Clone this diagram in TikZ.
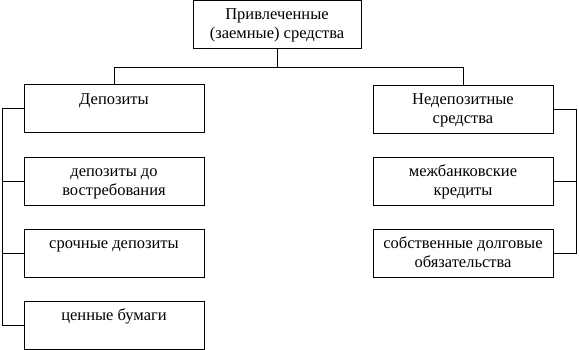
\documentclass[tikz,border=0pt]{standalone}
\usepackage{fontspec}
\setmainfont{Liberation Serif}
\usetikzlibrary{positioning}

% texto pegado arriba dentro del bloque
\newcommand{\blocktext}[2][172pt]{\parbox[c][35pt][t]{#1}{\centering\strut #2}}

\tikzset{
  blok/.style={draw, line width=0.8pt, minimum width=180pt, minimum height=48pt,
    inner sep=0pt, font=\fontsize{16.5}{19}\selectfont},
  svyaz/.style={line width=0.8pt}
}

\begin{document}
\begin{tikzpicture}[x=1pt, y=-1pt]
  \useasboundingbox (0,0) rectangle (579,350);

  % Bloque superior
  \node[blok, minimum width=168pt] (glav) at (277,24) {\blocktext[160pt]{Привлеченные\\(заемные) средства}};

  % Dos ramas
  \node[blok] (dep) at (114,108.5) {\blocktext{Депозиты}};
  \node[blok] (ned) at (463,109) {\blocktext{Недепозитные\\средства}};

  % Rama izquierda
  \node[blok] (dep1) at (114,181) {\blocktext{депозиты до\\востребования}};
  \node[blok] (dep2) at (114,253) {\blocktext{срочные депозиты}};
  \node[blok] (dep3) at (114,325) {\blocktext{ценные бумаги}};

  % Rama derecha
  \node[blok] (ned1) at (463,181) {\blocktext{межбанковские\\кредиты}};
  \node[blok] (ned2) at (463,253) {\blocktext{собственные долговые\\обязательства}};

  % Conexiones
  \coordinate (razv) at (277,67);
  \coordinate (shinaL) at (2.5,0);
  \coordinate (shinaR) at (576.5,0);
  \draw[svyaz] (glav.south) -- (razv);
  \draw[svyaz] (razv) -| (dep.north);
  \draw[svyaz] (razv) -| (ned.north);

  \draw[svyaz] (dep.west) -- (dep.west -| shinaL) |- (dep3.west);
  \draw[svyaz] (dep1.west) -- (dep1.west -| shinaL);
  \draw[svyaz] (dep2.west) -- (dep2.west -| shinaL);

  \draw[svyaz] (ned.east) -- (ned.east -| shinaR) |- (ned2.east);
  \draw[svyaz] (ned1.east) -- (ned1.east -| shinaR);
\end{tikzpicture}
\end{document}
